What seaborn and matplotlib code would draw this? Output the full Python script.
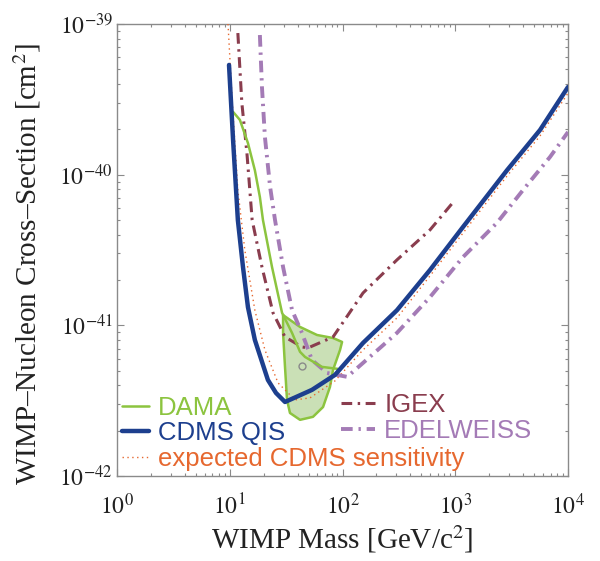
import matplotlib
matplotlib.use("Agg")
import matplotlib.pyplot as plt
import seaborn as sns
import pandas as pd
from matplotlib.lines import Line2D
from matplotlib.ticker import LogLocator, NullFormatter, FixedFormatter, FixedLocator

# --- exclusion limits: WIMP mass [GeV/c^2] vs. cross-section [cm^2] ---
cdms_mass = [9.85, 10.7, 11.8, 13.1, 14.5, 16.7, 21.8, 25.7, 30.9, 53.6, 85.8,
             152, 304, 597, 1172, 2877, 5650, 10000]
cdms_sigma = [5.35e-40, 1.70e-40, 5.0e-41, 2.44e-41, 1.32e-41, 8.0e-42, 4.34e-42,
              3.56e-42, 3.10e-42, 3.73e-42, 4.69e-42, 7.64e-42, 1.26e-41, 2.33e-41,
              4.50e-41, 1.07e-40, 1.98e-40, 3.82e-40]

expected_mass = [9.65, 10.5, 11.8, 13.6, 16.7, 20.5, 26.8, 37.9, 51.5, 85.8, 152,
                 304, 597, 1172, 2877, 5650, 10000]
expected_sigma = [1.0e-39, 3.13e-40, 7.9e-41, 3.16e-41, 1.26e-41, 6.87e-42, 4.15e-42,
                  3.20e-42, 3.30e-42, 4.28e-42, 6.87e-42, 1.12e-41, 2.13e-41, 4.10e-41,
                  9.80e-41, 1.81e-40, 3.48e-40]

dama_limit_mass = [10.7, 12.3, 14.5, 16.7, 18.5, 19.7, 23.7, 29.1, 35.7, 42.0, 46.5,
                   65.8, 91.0]
dama_limit_sigma = [2.61e-40, 2.31e-40, 1.62e-40, 1.07e-40, 7.11e-41, 5.0e-41, 2.44e-41,
                    1.21e-41, 8.9e-42, 6.67e-42, 6.17e-42, 5.30e-42, 5.14e-42]

dama_region_mass = [29.7, 42.0, 59.4, 82.4, 99.1, 95.1, 82.4, 77.4, 67.2, 54.7, 42.0,
                    34.2, 32.2, 30.9, 29.7, 29.7]
dama_region_sigma = [1.17e-41, 9.76e-42, 8.63e-42, 8.24e-42, 7.76e-42, 6.87e-42, 5.06e-42,
                     3.90e-42, 2.87e-42, 2.47e-42, 2.36e-42, 2.62e-42, 3.20e-42, 5.30e-42,
                     8.91e-42, 1.17e-41]

dama_best_mass = [43.7]
dama_best_sigma = [5.38e-42]

igex_mass = [11.8, 12.8, 14.2, 15.8, 19.3, 24.2, 30.9, 43.7, 49.4, 82.4, 152, 304,
             597, 995]
igex_sigma = [8.71e-40, 2.99e-40, 1.39e-40, 5.0e-41, 2.44e-41, 1.21e-41, 8.37e-42,
              7.19e-42, 7.08e-42, 8.37e-42, 1.64e-41, 2.72e-41, 4.30e-41, 6.79e-41]

edelweiss_mass = [18.5, 19.3, 20.5, 22.8, 25.2, 29.7, 35.7, 43.7, 53.6, 72.9, 110, 152,
                  304, 597, 1172, 2344, 3990, 6920, 10000]
edelweiss_sigma = [8.45e-40, 3.82e-40, 1.78e-40, 8.28e-41, 5.0e-41, 2.44e-41, 1.26e-41,
                   8.9e-42, 5.89e-42, 4.83e-42, 4.55e-42, 5.63e-42, 8.91e-42, 1.54e-41,
                   2.84e-41, 4.79e-41, 7.91e-41, 1.31e-40, 1.92e-40]

x_ticks = [1, 10, 100, 1000, 10000]
x_tick_labels = [r"$10^{0}$", r"$10^{1}$", r"$10^{2}$", r"$10^{3}$", r"$10^{4}$"]
y_ticks = [1e-42, 1e-41, 1e-40, 1e-39]
y_tick_labels = [r"$10^{-42}$", r"$10^{-41}$", r"$10^{-40}$", r"$10^{-39}$"]

# --- colours and line styles ---
C_DAMA = "#8cc43f"
C_DAMA_FILL = "#cae0b6"
C_CDMS = "#1d3f8e"
C_EXP = "#e6682f"
C_IGEX = "#8a3d4e"
C_EDEL = "#a47bb6"
LS_EXP = (0, (1, 2.5))
LS_IGEX = (0, (3.5, 1.8, 0.8, 1.8))
LS_EDEL = (0, (3.0, 1.5, 0.6, 1.5))

sns.set_theme(style="ticks")
plt.rcParams["font.family"] = ["Liberation Serif", "DejaVu Serif"]
plt.rcParams["mathtext.fontset"] = "stix"

fig = plt.figure(figsize=(6.0, 5.61), dpi=100)
ax = fig.add_axes([0.195, 0.1515, 0.7517, 0.8057])
ax.set_xscale("log")
ax.set_yscale("log")

# DAMA allowed region
ax.fill(dama_region_mass, dama_region_sigma, facecolor=C_DAMA_FILL, edgecolor="none", zorder=1)
sns.lineplot(x=dama_region_mass, y=dama_region_sigma, sort=False, estimator=None,
             color=C_DAMA, lw=1.8, ax=ax, zorder=2)

# expected sensitivity (thin dotted)
exp_df = pd.DataFrame({"mass": expected_mass, "sigma": expected_sigma})
sns.lineplot(data=exp_df, x="mass", y="sigma", sort=False, estimator=None,
             color=C_EXP, lw=1.0, linestyle=LS_EXP, ax=ax, zorder=3)

# IGEX and EDELWEISS (dash-dot)
sns.lineplot(x=igex_mass, y=igex_sigma, sort=False, estimator=None,
             color=C_IGEX, lw=2.2, linestyle=LS_IGEX, ax=ax, zorder=4)
sns.lineplot(x=edelweiss_mass, y=edelweiss_sigma, sort=False, estimator=None,
             color=C_EDEL, lw=2.8, linestyle=LS_EDEL, ax=ax, zorder=4)

# DAMA upper limit line and best-fit point
sns.lineplot(x=dama_limit_mass, y=dama_limit_sigma, sort=False, estimator=None,
             color=C_DAMA, lw=1.8, ax=ax, zorder=5)
ax.plot(dama_best_mass, dama_best_sigma, marker="o", ms=5, mfc="none", mec="#8a8a8a",
        mew=1.0, ls="none", zorder=6)

# CDMS QIS limit
sns.lineplot(x=cdms_mass, y=cdms_sigma, sort=False, estimator=None,
             color=C_CDMS, lw=3.2, ax=ax, zorder=7)

ax.set_xlim(1, 1e4)
ax.set_ylim(1e-42, 1e-39)

ax.xaxis.set_major_locator(FixedLocator(x_ticks))
ax.xaxis.set_major_formatter(FixedFormatter(x_tick_labels))
ax.yaxis.set_major_locator(FixedLocator(y_ticks))
ax.yaxis.set_major_formatter(FixedFormatter(y_tick_labels))
ax.xaxis.set_minor_locator(LogLocator(base=10, subs=range(2, 10), numticks=20))
ax.yaxis.set_minor_locator(LogLocator(base=10, subs=range(2, 10), numticks=20))
ax.xaxis.set_minor_formatter(NullFormatter())
ax.yaxis.set_minor_formatter(NullFormatter())

ax.tick_params(which="both", direction="in", top=True, right=True, colors="#222222",
               color="#8a8a8a", width=0.8)
ax.tick_params(which="major", length=5, labelsize=17)
ax.tick_params(which="minor", length=2.5)
ax.tick_params(axis="x", which="major", pad=13)
ax.tick_params(axis="y", which="major", pad=3)
for sp in ax.spines.values():
    sp.set_color("#8a8a8a")
    sp.set_linewidth(1.0)

ax.set_xlabel(r"WIMP Mass [GeV/c$^2$]", fontsize=21, color="#222222")
ax.set_ylabel(r"WIMP–Nucleon Cross–Section [cm$^2$]", fontsize=21, color="#222222")
ax.xaxis.set_label_coords(0.5, -0.105)
ax.yaxis.set_label_coords(-0.165, 0.47)

# legends
h_dama = Line2D([], [], color=C_DAMA, lw=1.8)
h_cdms = Line2D([], [], color=C_CDMS, lw=3.2)
h_exp = Line2D([], [], color=C_EXP, lw=1.0, linestyle=LS_EXP)
h_igex = Line2D([], [], color=C_IGEX, lw=2.2, linestyle=LS_IGEX)
h_edel = Line2D([], [], color=C_EDEL, lw=2.8, linestyle=LS_EDEL)

legend_font = {"family": "Liberation Sans", "size": 18.5}
leg1 = ax.legend([h_dama, h_cdms, h_exp], ["DAMA", "CDMS QIS", "expected CDMS sensitivity"],
                 loc="lower left", bbox_to_anchor=(0.005, 0.006), frameon=False,
                 prop=legend_font, handlelength=1.05, handletextpad=0.35,
                 labelspacing=0.05, borderpad=0.1, borderaxespad=0,
                 labelcolor=[C_DAMA, C_CDMS, C_EXP])
ax.add_artist(leg1)
leg2 = ax.legend([h_igex, h_edel], ["IGEX", "EDELWEISS"],
                 loc="lower left", bbox_to_anchor=(0.49, 0.068), frameon=False,
                 prop=legend_font, handlelength=1.35, handletextpad=0.35,
                 labelspacing=0.05, borderpad=0.1, borderaxespad=0,
                 labelcolor=[C_IGEX, C_EDEL])

fig.savefig("out.png", dpi=100)
